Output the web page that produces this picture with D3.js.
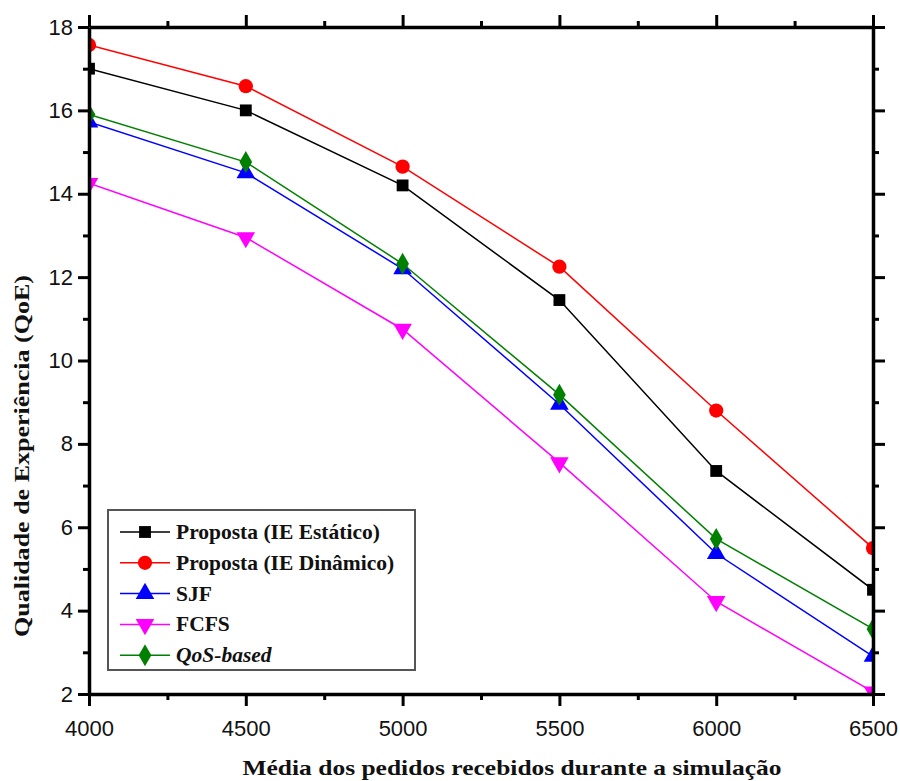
<!DOCTYPE html>
<html>
<head>
<meta charset="utf-8">
<script src="https://cdn.jsdelivr.net/npm/d3@7"></script>
<style>
  body { margin: 0; background: #fff; }
  svg { display: block; }
</style>
</head>
<body>
<svg width="900" height="781"></svg>
<script>
var svg = d3.select("svg");

// values
var requests = [4000, 4500, 5000, 5500, 6000, 6500];
var ieEstatico = [17.0, 16.0, 14.2, 11.45, 7.35, 4.5];
var ieDinamico = [17.57, 16.58, 14.65, 12.25, 8.8, 5.5];
var sjf = [15.72, 14.5, 12.2, 8.95, 5.37, 2.9];
var fcfs = [14.25, 12.95, 10.75, 7.55, 4.22, 2.05];
var qosBased = [15.9, 14.76, 12.32, 9.18, 5.72, 3.56];

var xTicks = [4000, 4500, 5000, 5500, 6000, 6500];
var yTicks = [2, 4, 6, 8, 10, 12, 14, 16, 18];

var series = [
  {name: "Proposta (IE Estático)", values: ieEstatico, color: "#000000", symbol: d3.symbolSquare, size: 140, rot: 0},
  {name: "Proposta (IE Dinâmico)", values: ieDinamico, color: "#ff0000", symbol: d3.symbolCircle, size: 160, rot: 0},
  {name: "SJF", values: sjf, color: "#0000ff", symbol: d3.symbolTriangle, size: 150, rot: 0},
  {name: "FCFS", values: fcfs, color: "#ff00ff", symbol: d3.symbolTriangle, size: 150, rot: 180},
  {name: "QoS-based", values: qosBased, color: "#008000", symbol: d3.symbolDiamond, size: 140, rot: 0, italic: true}
];

var mLeft = 89, mRight = 873, mTop = 27, mBottom = 694;

var x = d3.scaleLinear().domain([4000, 6500]).range([mLeft, mRight]);
var y = d3.scaleLinear().domain([2, 18]).range([mBottom, mTop]);

var tickFont = "'Liberation Sans', Arial, sans-serif";
var serif = "'Liberation Serif', 'Times New Roman', serif";

// clip so markers at the edges get cut like in the original
svg.append("clipPath").attr("id", "plot")
  .append("rect")
  .attr("x", mLeft).attr("y", mTop)
  .attr("width", mRight - mLeft).attr("height", mBottom - mTop);

var plot = svg.append("g").attr("clip-path", "url(#plot)");

var line = d3.line()
  .x(function(d, i) { return x(requests[i]); })
  .y(function(d) { return y(d); });

series.forEach(function(s) {
  plot.append("path")
    .attr("d", line(s.values))
    .attr("fill", "none")
    .attr("stroke", s.color)
    .attr("stroke-width", 1.5);

  plot.selectAll(null)
    .data(s.values)
    .enter().append("path")
    .attr("d", d3.symbol().type(s.symbol).size(s.size))
    .attr("transform", function(d, i) {
      return "translate(" + x(requests[i]) + "," + y(d) + ") rotate(" + s.rot + ")";
    })
    .attr("fill", s.color);
});

// axes: major ticks + minor ticks halfway
var xMinor = d3.range(4250, 6500, 500);
var yMinor = d3.range(3, 18, 2);

function styleAxis(g) {
  g.select(".domain").attr("stroke", "#000").attr("stroke-width", 3.5);
  g.selectAll(".tick line").attr("stroke", "#000").attr("stroke-width", 3);
  g.selectAll("text")
    .attr("font-family", tickFont)
    .attr("font-size", 22)
    .attr("fill", "#111");
}

svg.append("g")
  .attr("transform", "translate(0," + mBottom + ")")
  .call(d3.axisBottom(x).tickValues(xTicks).tickFormat(d3.format("d")).tickSize(12).tickPadding(14).tickSizeOuter(0))
  .call(styleAxis);
svg.append("g")
  .attr("transform", "translate(0," + mBottom + ")")
  .call(d3.axisBottom(x).tickValues(xMinor).tickFormat("").tickSize(6).tickSizeOuter(0))
  .call(styleAxis).select(".domain").remove();

svg.append("g")
  .attr("transform", "translate(0," + mTop + ")")
  .call(d3.axisTop(x).tickValues(xTicks).tickFormat("").tickSize(12).tickSizeOuter(0))
  .call(styleAxis);
svg.append("g")
  .attr("transform", "translate(0," + mTop + ")")
  .call(d3.axisTop(x).tickValues(xMinor).tickFormat("").tickSize(6).tickSizeOuter(0))
  .call(styleAxis).select(".domain").remove();

svg.append("g")
  .attr("transform", "translate(" + mLeft + ",0)")
  .call(d3.axisLeft(y).tickValues(yTicks).tickSize(11).tickPadding(5).tickSizeOuter(0))
  .call(styleAxis);
svg.append("g")
  .attr("transform", "translate(" + mLeft + ",0)")
  .call(d3.axisLeft(y).tickValues(yMinor).tickFormat("").tickSize(6).tickSizeOuter(0))
  .call(styleAxis).select(".domain").remove();

svg.append("g")
  .attr("transform", "translate(" + mRight + ",0)")
  .call(d3.axisRight(y).tickValues(yTicks).tickFormat("").tickSize(12).tickSizeOuter(0))
  .call(styleAxis);
svg.append("g")
  .attr("transform", "translate(" + mRight + ",0)")
  .call(d3.axisRight(y).tickValues(yMinor).tickFormat("").tickSize(6).tickSizeOuter(0))
  .call(styleAxis).select(".domain").remove();

// axis titles
svg.append("text")
  .attr("x", 512).attr("y", 775)
  .attr("text-anchor", "middle")
  .attr("font-family", serif)
  .attr("font-weight", "bold")
  .attr("font-size", 22)
  .attr("textLength", 539)
  .attr("lengthAdjust", "spacingAndGlyphs")
  .attr("fill", "#111")
  .text("Média dos pedidos recebidos durante a simulação");

svg.append("text")
  .attr("transform", "translate(29,456) rotate(-90)")
  .attr("text-anchor", "middle")
  .attr("font-family", serif)
  .attr("font-weight", "bold")
  .attr("font-size", 20)
  .attr("textLength", 362)
  .attr("lengthAdjust", "spacingAndGlyphs")
  .attr("fill", "#111")
  .text("Qualidade de Experiência (QoE)");

// legend
var legend = svg.append("g");
legend.append("rect")
  .attr("x", 108).attr("y", 510)
  .attr("width", 307).attr("height", 160)
  .attr("fill", "#fff")
  .attr("stroke", "#555")
  .attr("stroke-width", 2);

var row = legend.selectAll("g.row")
  .data(series)
  .enter().append("g")
  .attr("class", "row")
  .attr("transform", function(d, i) { return "translate(0," + (532 + i * 30.8) + ")"; });

row.append("line")
  .attr("x1", 120).attr("x2", 170)
  .attr("stroke", function(d) { return d.color; })
  .attr("stroke-width", 1.5);

row.append("path")
  .attr("d", function(d) { return d3.symbol().type(d.symbol).size(d.size)(); })
  .attr("transform", function(d) { return "translate(145,0) rotate(" + d.rot + ")"; })
  .attr("fill", function(d) { return d.color; });

row.append("text")
  .attr("x", 176).attr("y", 7)
  .attr("font-family", serif)
  .attr("font-weight", "bold")
  .attr("font-style", function(d) { return d.italic ? "italic" : "normal"; })
  .attr("font-size", 21.5)
  .attr("fill", "#111")
  .text(function(d) { return d.name; });
</script>
</body>
</html>
